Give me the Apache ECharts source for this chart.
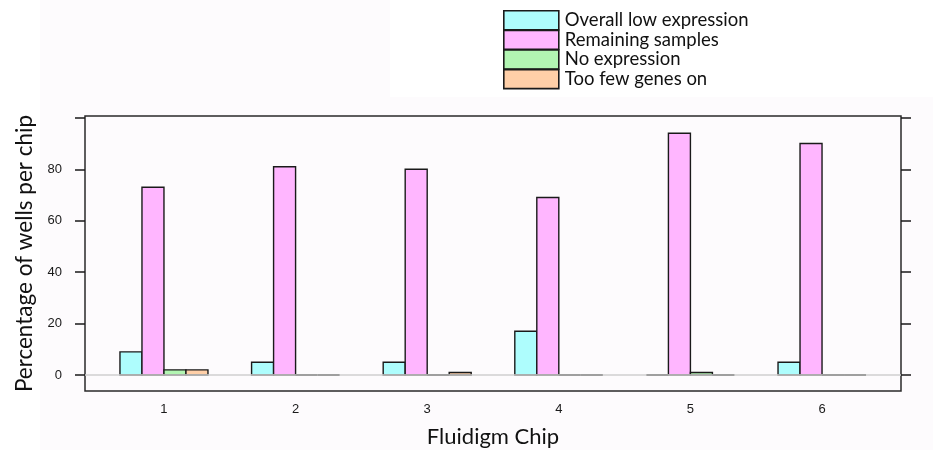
<!DOCTYPE html>
<html>
<head>
<meta charset="utf-8">
<title>Fluidigm Chip wells</title>
<script src="https://cdn.jsdelivr.net/npm/echarts@6/dist/echarts.min.js"></script>
<style>
  html, body { margin: 0; padding: 0; background: #ffffff; }
  #chart { width: 933px; height: 450px; }
</style>
</head>
<body>
<div id="chart"></div>
<script>
// Chips on the x axis and percentage of wells per category
const chips = [1, 2, 3, 4, 5, 6];
const overallLow = [9, 5, 5, 17, 0, 5];
const remaining = [73, 81, 80, 69, 94, 90];
const noExpression = [2, 0, 0, 0, 1, 0];
const tooFewGenes = [2, 0, 1, 0, 0, 0];

const seriesNames = ['Overall low expression', 'Remaining samples', 'No expression', 'Too few genes on'];
const seriesColors = ['#aefdfd', '#ffb6ff', '#b2f5b2', '#ffcfa8'];
const yTicks = [0, 20, 40, 60, 80, 100];
const yLabels = [0, 20, 40, 60, 80];

const BAR_W = 22;          // bar width in pixels
const OUTLINE = '#1a1a1a';

const chart = echarts.init(document.getElementById('chart'), null, { renderer: 'canvas' });

// Grouped bars: each series sits at its own pixel offset around the chip position.
// Zero-valued bars are drawn as a flat outline on the baseline.
function makeRenderer(slot, color) {
  return function (params, api) {
    const chip = api.value(0);
    const v = api.value(1);
    const base = api.coord([chip, 0]);
    const top = api.coord([chip, v]);
    const x0 = base[0] + (slot - 2) * BAR_W;
    if (v === 0) {
      const yLine = Math.round(base[1]);
      return {
        type: 'line',
        shape: { x1: x0, y1: yLine, x2: x0 + BAR_W, y2: yLine },
        style: { stroke: '#111111', lineWidth: 2 }
      };
    }
    return {
      type: 'rect',
      shape: { x: x0, y: Math.min(base[1], top[1]), width: BAR_W, height: Math.abs(base[1] - top[1]) },
      style: { fill: color, stroke: OUTLINE, lineWidth: 1.4 }
    };
  };
}

const valueSets = [overallLow, remaining, noExpression, tooFewGenes];
const allSeries = valueSets.map((vals, i) => ({
  name: seriesNames[i],
  type: 'custom',
  coordinateSystem: 'cartesian2d',
  data: chips.map((c, j) => [c, vals[j]]),
  encode: { x: 0, y: 1 },
  z: 3,
  itemStyle: { color: seriesColors[i], borderColor: OUTLINE, borderWidth: 1.6 },
  renderItem: makeRenderer(i, seriesColors[i]),
  emphasis: { disabled: true },
  silent: true
}));

// zero reference line drawn beneath the bars
allSeries.push({
  type: 'line',
  data: [],
  z: 1,
  silent: true,
  markLine: {
    silent: true,
    symbol: 'none',
    label: { show: false },
    lineStyle: { color: '#cfcfcf', width: 1.5, type: 'solid' },
    data: [{ yAxis: 0 }]
  }
});

const tickFont = { fontFamily: 'Liberation Sans, Arial, sans-serif', fontSize: 13, color: '#1a1a1a' };

chart.setOption({
  backgroundColor: '#fdfbfd',
  animation: false,
  graphic: [
    { type: 'rect', shape: { x: 390, y: 0, width: 543, height: 97 }, style: { fill: '#ffffff' }, z: -10 },
    { type: 'rect', shape: { x: 0, y: 0, width: 40, height: 450 }, style: { fill: '#ffffff' }, z: -10 }
  ],
  legend: {
    orient: 'vertical',
    left: 498,
    top: 5,
    itemWidth: 55,
    itemHeight: 19,
    itemGap: -1,
    icon: 'rect',
    selectedMode: false,
    data: seriesNames.map((n, i) => ({
      name: n,
      itemStyle: { color: seriesColors[i], borderColor: OUTLINE, borderWidth: 1.6 }
    })),
    textStyle: { fontFamily: 'Lato, sans-serif', fontSize: 18.5, color: '#111', lineHeight: 17, padding: [0, 0, 0, 1] }
  },
  grid: {
    left: 85, right: 32, top: 116, bottom: 59,
    outerBoundsMode: 'none',
    containLabel: false,
    show: true, borderColor: '#2a2a2a', borderWidth: 1.5, backgroundColor: 'transparent'
  },
  xAxis: {
    type: 'value',
    min: 0.4,
    max: 6.6,
    name: 'Fluidigm Chip',
    nameLocation: 'middle',
    nameGap: 35,
    nameTextStyle: { fontFamily: 'Lato, sans-serif', fontSize: 22, color: '#111' },
    axisLine: { show: false },
    axisTick: { show: false },
    splitLine: { show: false },
    axisLabel: { customValues: chips, margin: 12, ...tickFont }
  },
  yAxis: [
    {
      type: 'value',
      min: -6.2,
      max: 100.7,
      position: 'left',
      name: 'Percentage of wells per chip',
      nameLocation: 'middle',
      nameGap: 42,
      nameTextStyle: { fontFamily: 'Lato, sans-serif', fontSize: 22.5, color: '#111' },
      axisLine: { show: false },
      splitLine: { show: false },
      axisTick: { show: true, customValues: yTicks, length: 10, lineStyle: { color: '#1a1a1a', width: 1.5 } },
      axisLabel: { customValues: yLabels, margin: 23, ...tickFont }
    },
    {
      type: 'value',
      min: -6.2,
      max: 100.7,
      position: 'right',
      axisLine: { show: false },
      splitLine: { show: false },
      axisTick: { show: true, customValues: yTicks, length: 10, lineStyle: { color: '#1a1a1a', width: 1.5 } },
      axisLabel: { show: false }
    }
  ],
  series: allSeries
});
</script>
</body>
</html>
